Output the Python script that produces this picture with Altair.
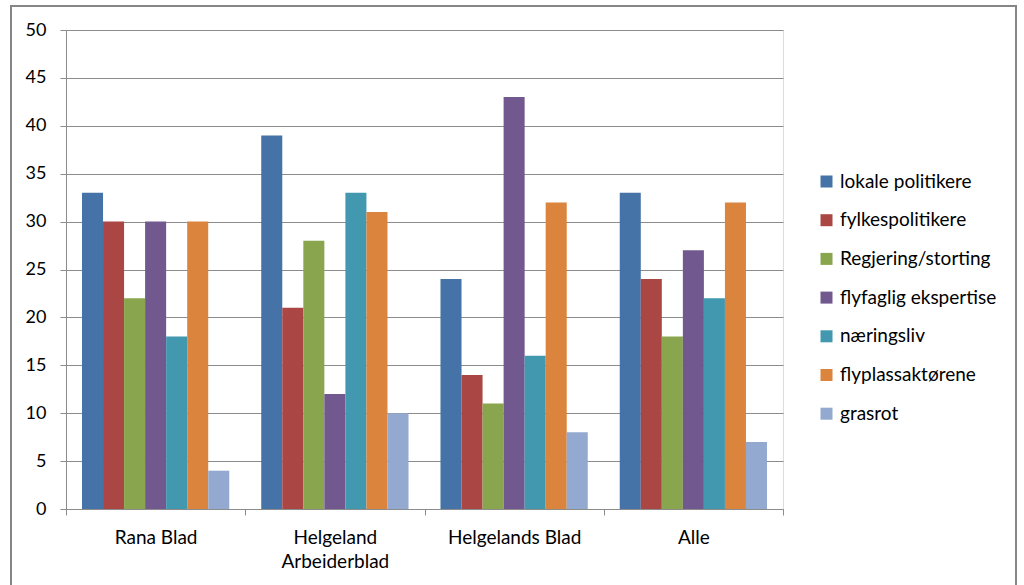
import altair as alt
import pandas as pd

# Newspapers (groups) and source categories (series)
aviser = ["Rana Blad", "Helgeland Arbeiderblad", "Helgelands Blad", "Alle"]
kilder = [
    "lokale politikere",
    "fylkespolitikere",
    "Regjering/storting",
    "flyfaglig ekspertise",
    "næringsliv",
    "flyplassaktørene",
    "grasrot",
]
farger = ["#4572A7", "#AA4643", "#89A54E", "#71588F", "#4198AF", "#DB843D", "#93A9CF"]

# Percent per source, one list per newspaper, in the order of `kilder`
rana_blad = [33, 30, 22, 30, 18, 30, 4]
helgeland_arbeiderblad = [39, 21, 28, 12, 33, 31, 10]
helgelands_blad = [24, 14, 11, 43, 16, 32, 8]
alle = [33, 24, 18, 27, 22, 32, 7]

y_ticks = [0, 5, 10, 15, 20, 25, 30, 35, 40, 45, 50]

rows = []
for avis, verdier in zip(aviser, [rana_blad, helgeland_arbeiderblad, helgelands_blad, alle]):
    for kilde, v in zip(kilder, verdier):
        rows.append({"avis": avis, "kilde": kilde, "verdi": v})
df = pd.DataFrame(rows)

FONT = "Lato"
GRAY = "#8c8c8c"
TEXT = 19

bars = alt.Chart(df).mark_bar(strokeWidth=0).encode(
    x=alt.X(
        "avis:N",
        sort=aviser,
        title=None,
        scale=alt.Scale(paddingInner=0, paddingOuter=0),
        axis=alt.Axis(
            labelAngle=0,
            labelFontSize=TEXT,
            labelFont=FONT,
            labelColor="#000000",
            labelPadding=13,
            labelLineHeight=24,
            labelBaseline="top",
            tickBand="extent",
            tickSize=6,
            tickColor=GRAY,
            domainColor=GRAY,
            labelExpr="datum.label == 'Helgeland Arbeiderblad' ? ['Helgeland', 'Arbeiderblad'] : datum.label",
        ),
    ),
    xOffset=alt.XOffset(
        "kilde:N",
        sort=kilder,
        scale=alt.Scale(paddingInner=0, paddingOuter=0.76),
    ),
    y=alt.Y(
        "verdi:Q",
        title=None,
        scale=alt.Scale(domain=[0, 50], nice=False),
        axis=alt.Axis(
            values=y_ticks,
            labelFontSize=18,
            labelFont=FONT,
            labelColor="#000000",
            labelPadding=14,
            tickSize=6,
            tickColor=GRAY,
            domainColor=GRAY,
            gridColor=GRAY,
            gridWidth=1,
        ),
    ),
    color=alt.Color(
        "kilde:N",
        sort=kilder,
        scale=alt.Scale(domain=kilder, range=farger),
        legend=alt.Legend(
            title=None,
            orient="none",
            legendX=751,
            legendY=142,
            symbolType="square",
            symbolSize=144,
            symbolStrokeWidth=0,
            symbolOpacity=1,
            labelFontSize=TEXT,
            labelFont=FONT,
            labelColor="#000000",
            labelOffset=4,
            rowPadding=18.7,
            padding=0,
        ),
    ),
)

# Frame drawn around the whole figure
ramme = alt.Chart(pd.DataFrame({"k": [0]})).mark_rect(
    fill="transparent", stroke="#868686", strokeWidth=2
).encode(
    x=alt.value(-55), x2=alt.value(950), y=alt.value(-24), y2=alt.value(600)
)

chart = alt.layer(bars, ramme).properties(
    width=717,
    height=479,
    autosize=alt.AutoSizeParams(type="none"),
    padding={"left": 66, "top": 30, "right": 241, "bottom": 76},
).configure_view(strokeWidth=0).configure(background="white")

chart.save("out.html", embed_options={"renderer": "svg", "actions": False})
